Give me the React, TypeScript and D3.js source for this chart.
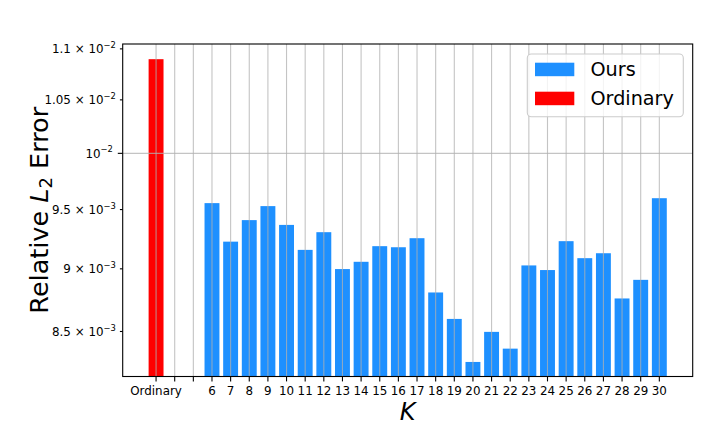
import React from "react";
import * as d3 from "d3";

const categories = ["Ordinary", "", "", "6", "7", "8", "9", "10", "11", "12", "13", "14", "15", "16", "17", "18", "19", "20", "21", "22", "23", "24", "25", "26", "27", "28", "29", "30"];
const ordinaryValue = 0.010897;
const oursK = ["6", "7", "8", "9", "10", "11", "12", "13", "14", "15", "16", "17", "18", "19", "20", "21", "22", "23", "24", "25", "26", "27", "28", "29", "30"];
const oursValues = [0.009556, 0.009226, 0.009409, 0.009530, 0.009368, 0.009157, 0.009306, 0.008998, 0.009058, 0.009188, 0.009179, 0.009255, 0.008808, 0.008598, 0.008267, 0.008497, 0.008368, 0.009028, 0.008990, 0.009230, 0.009088, 0.009129, 0.008760, 0.008910, 0.009599];
const yTickValues = [0.0085, 0.009, 0.0095, 0.01, 0.0105, 0.011];
const yTickMantissa = ["8.5", "9", "9.5", "", "1.05", "1.1"];
const yTickExponent = ["−3", "−3", "−3", "−2", "−2", "−2"];
const yMajor = [false, false, false, true, false, false];

const W = 706, H = 441;
const left = 122.7, right = 692.7, top = 44, bottom = 376.5;
const FONT = "DejaVu Sans, sans-serif";

export default function App() {
  const x = d3.scaleLinear().domain([-1.79, 28.79]).range([left, right]);
  const y = d3.scaleLog().domain([0.008158, 0.011049]).range([bottom, top]);
  const bw = x(0.4) - x(-0.4);
  const blue = "#1e90ff";
  const red = "#ff0000";
  const grid = "#b0b0b0";

  return (
    <svg width={W} height={H} style={{ position: "absolute", left: 0, top: 0 }} fontFamily={FONT}>
      <rect x={0} y={0} width={W} height={H} fill="white" />
      {/* bars */}
      <rect x={x(0) - bw / 2} y={y(ordinaryValue)} width={bw} height={bottom - y(ordinaryValue)} fill={red} />
      {oursValues.map((v, i) => {
        const idx = categories.indexOf(oursK[i]);
        return <rect key={i} x={x(idx) - bw / 2} y={y(v)} width={bw} height={bottom - y(v)} fill={blue} />;
      })}
      {/* grid */}
      {categories.map((c, i) => (
        <line key={"g" + i} x1={x(i)} x2={x(i)} y1={top} y2={bottom} stroke={grid} strokeWidth={1.1} strokeOpacity={0.75} />
      ))}
      {yTickValues.map((v, i) => yMajor[i] ? (
        <line key={"hg" + i} x1={left} x2={right} y1={y(v)} y2={y(v)} stroke={grid} strokeWidth={1.1} strokeOpacity={0.75} />
      ) : null)}
      {/* spines */}
      <rect x={left} y={top} width={right - left} height={bottom - top} fill="none" stroke="black" strokeWidth={1.1} />
      {/* x ticks */}
      {categories.map((c, i) => (
        <g key={"xt" + i}>
          <line x1={x(i)} x2={x(i)} y1={bottom} y2={bottom + 4.9} stroke="black" strokeWidth={1.1} />
          <text x={x(i)} y={bottom + 18.5} fontSize={11.9} textAnchor="middle" fill="black">{c}</text>
        </g>
      ))}
      {/* y ticks */}
      {yTickValues.map((v, i) => {
        const len = yMajor[i] ? 4.9 : 2.8;
        const endX = left - len - (yMajor[i] ? 4.9 : 4.0);
        return (
          <g key={"yt" + i}>
            <line x1={left - len} x2={left} y1={y(v)} y2={y(v)} stroke="black" strokeWidth={1.1} />
            <text x={endX} y={y(v) + 4.3} fontSize={11.9} textAnchor="end" fill="black">
              <tspan>{yTickMantissa[i] ? yTickMantissa[i] + " × 10" : "10"}</tspan>
              <tspan dy={-5.2} fontSize={8.4}>{yTickExponent[i]}</tspan>
            </text>
          </g>
        );
      })}
      {/* axis labels */}
      <text x={(left + right) / 2} y={420} fontSize={24} fontStyle="italic" textAnchor="middle" fill="black">K</text>
      <text transform={`translate(47.5,${(top + bottom) / 2}) rotate(-90)`} fontSize={25.5} textAnchor="middle" fill="black">
        <tspan>Relative </tspan>
        <tspan fontStyle="italic">L</tspan>
        <tspan dy={4.5} fontSize={18}>2</tspan>
        <tspan dy={-4.5}> Error</tspan>
      </text>
      {/* legend */}
      <rect x={527.3} y={54} width={156} height={62.7} rx={4} fill="white" fillOpacity={0.8} stroke="#cccccc" strokeWidth={1.1} />
      <rect x={535} y={62.7} width={39.3} height={13.5} fill={blue} />
      <text x={590.5} y={76} fontSize={19.2} fill="black">Ours</text>
      <rect x={535} y={91.7} width={39.3} height={13.5} fill={red} />
      <text x={590.5} y={105} fontSize={19.2} fill="black">Ordinary</text>
    </svg>
  );
}
